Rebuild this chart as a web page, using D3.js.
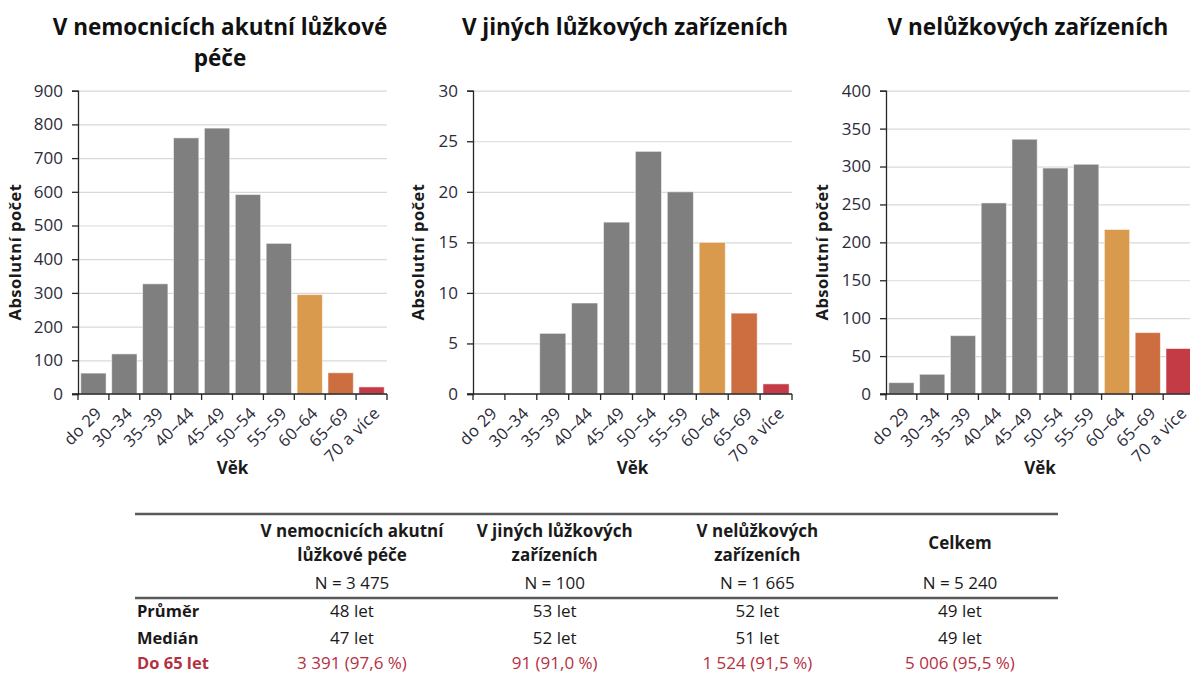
<!DOCTYPE html>
<html>
<head>
<meta charset="utf-8">
<script src="https://cdn.jsdelivr.net/npm/d3@7"></script>
<style>
  html, body { margin: 0; padding: 0; background: #fff; }
  svg { display: block; font-family: "Open Sans", Lato, sans-serif; }
</style>
</head>
<body>
<div id="chart"></div>
<script>
// --- données ---
const ageGroups = ["do 29", "30–34", "35–39", "40–44", "45–49", "50–54", "55–59", "60–64", "65–69", "70 a více"];
const barColors = ["#7f7f7f", "#7f7f7f", "#7f7f7f", "#7f7f7f", "#7f7f7f", "#7f7f7f", "#7f7f7f", "#d99a4e", "#cc6e40", "#c43a45"];

const acuteValues = [62, 119, 327, 760, 789, 592, 447, 295, 63, 21];
const otherBedValues = [0, 0, 6, 9, 17, 24, 20, 15, 8, 1];
const nonBedValues = [15, 26, 77, 252, 336, 298, 303, 217, 81, 60];

const acuteTicks = [0, 100, 200, 300, 400, 500, 600, 700, 800, 900];
const otherBedTicks = [0, 5, 10, 15, 20, 25, 30];
const nonBedTicks = [0, 50, 100, 150, 200, 250, 300, 350, 400];

const chartTitles = [["V nemocnicích akutní lůžkové", "péče"], ["V jiných lůžkových zařízeních"], ["V nelůžkových zařízeních"]];

// tableau
const tableHeaders = [["V nemocnicích akutní", "lůžkové péče"], ["V jiných lůžkových", "zařízeních"], ["V nelůžkových", "zařízeních"], ["Celkem"]];
const tableN = ["N = 3 475", "N = 100", "N = 1 665", "N = 5 240"];
const meanAges = ["48 let", "53 let", "52 let", "49 let"];
const medianAges = ["47 let", "52 let", "51 let", "49 let"];
const under65 = ["3 391 (97,6 %)", "91 (91,0 %)", "1 524 (91,5 %)", "5 006 (95,5 %)"];
const rowLabels = ["Průměr", "Medián", "Do 65 let"];

const W = 1190, H = 675;
const svg = d3.select("#chart").append("svg").attr("width", W).attr("height", H);

const plotTop = 90.7, plotBottom = 394;

function drawChart(cfg) {
    const g = svg.append("g");
    const x = d3.scaleBand().domain(ageGroups).range([cfg.left, cfg.right]).paddingInner(0.18).paddingOuter(0.09);
    const y = d3.scaleLinear().domain([0, d3.max(cfg.ticks)]).range([plotBottom, plotTop]);

    // grille
    g.append("g")
        .attr("transform", `translate(${cfg.left},0)`)
        .call(d3.axisLeft(y).tickValues(cfg.ticks).tickSize(-(cfg.right - cfg.left)).tickFormat(""))
        .call(a => a.select(".domain").remove())
        .call(a => a.selectAll("line").attr("stroke", "#d9d9d9").attr("stroke-width", 1.2));

    // barres
    g.selectAll("rect.bar")
        .data(cfg.values.map((v, i) => ({ cat: ageGroups[i], v: v, c: barColors[i] })).filter(d => d.v > 0))
        .join("rect")
        .attr("class", "bar")
        .attr("x", d => x(d.cat))
        .attr("width", x.bandwidth())
        .attr("y", d => y(d.v))
        .attr("height", d => y(0) - y(d.v))
        .attr("fill", d => d.c)
        .attr("stroke", "rgba(255,255,255,0.55)")
        .attr("stroke-width", 1);

    // axe Y
    g.append("g")
        .attr("transform", `translate(${cfg.left},0)`)
        .call(d3.axisLeft(y).tickValues(cfg.ticks).tickSize(6).tickPadding(9))
        .call(a => a.select(".domain").attr("stroke", "#262626").attr("stroke-width", 1.3))
        .call(a => a.selectAll("line").attr("stroke", "#262626").attr("stroke-width", 1.3))
        .call(a => a.selectAll("text").attr("fill", "#2b2b3a").style("font-size", "17px").style("font-family", "'Open Sans', sans-serif"));

    // axe X : ticks aux limites des catégories
    const xa = g.append("g");
    xa.append("line")
        .attr("x1", cfg.left - 6).attr("x2", cfg.right)
        .attr("y1", y(0)).attr("y2", y(0))
        .attr("stroke", "#262626").attr("stroke-width", 1.3);
    xa.selectAll("line.tk")
        .data(d3.range(ageGroups.length + 1))
        .join("line")
        .attr("class", "tk")
        .attr("x1", i => cfg.left + i * x.step()).attr("x2", i => cfg.left + i * x.step())
        .attr("y1", y(0)).attr("y2", y(0) + 6)
        .attr("stroke", "#262626").attr("stroke-width", 1.3);
    xa.selectAll("text")
        .data(ageGroups)
        .join("text")
        .attr("transform", d => `translate(${x(d) + x.bandwidth() / 2 + 1},${y(0) + 12}) rotate(-45)`)
        .attr("text-anchor", "end")
        .attr("dy", "0.7em")
        .attr("fill", "#2b2b3a")
        .style("font-size", "16.5px")
        .style("letter-spacing", "0.4px")
        .text(d => d);

    // titres d'axes
    g.append("text")
        .attr("x", (cfg.left + cfg.right) / 2).attr("y", 474)
        .attr("text-anchor", "middle")
        .style("font-weight", 700).style("font-size", "17px").attr("fill", "#1a1a1a")
        .text("Věk");
    g.append("text")
        .attr("transform", `translate(${cfg.left + cfg.labelOffset},252) rotate(-90)`)
        .attr("text-anchor", "middle")
        .style("font-weight", 700).style("font-size", "16.5px").style("letter-spacing", "0.5px").attr("fill", "#1a1a1a")
        .text("Absolutní počet");

    // titre
    cfg.title.forEach((t, i) => {
        g.append("text")
            .attr("x", cfg.titleX).attr("y", 35 + i * 31)
            .attr("text-anchor", "middle")
            .style("font-weight", 700).style("font-size", "22.5px").attr("fill", "#111")
            .text(t);
    });
}

drawChart({ left: 78, right: 387, values: acuteValues, ticks: acuteTicks, title: chartTitles[0], titleX: 220, labelOffset: -57 });
drawChart({ left: 473, right: 792, values: otherBedValues, ticks: otherBedTicks, title: chartTitles[1], titleX: 625, labelOffset: -49 });
drawChart({ left: 886, right: 1194, values: nonBedValues, ticks: nonBedTicks, title: chartTitles[2], titleX: 1028, labelOffset: -58 });

// --- tableau ---
const colX = d3.scalePoint().domain(d3.range(4)).range([352, 960]);
const tbl = svg.append("g").style("font-size", "17px");

[514, 598].forEach(yy => {
    tbl.append("line").attr("x1", 135).attr("x2", 1058).attr("y1", yy).attr("y2", yy)
        .attr("stroke", "#595959").attr("stroke-width", 2.4);
});

tableHeaders.forEach((lines, i) => {
    const y0 = lines.length === 2 ? 537 : 549;
    lines.forEach((t, j) => {
        tbl.append("text").attr("x", colX(i)).attr("y", y0 + j * 24)
            .attr("text-anchor", "middle").style("font-weight", 700).attr("fill", "#1a1a1a").text(t);
    });
});
tableN.forEach((t, i) => {
    tbl.append("text").attr("x", colX(i)).attr("y", 589).attr("text-anchor", "middle").attr("fill", "#1a1a1a").text(t);
});

const rows = [meanAges, medianAges, under65];
const rowY = [617, 644, 669];
rows.forEach((r, k) => {
    const col = k === 2 ? "#b5303f" : "#1a1a1a";
    tbl.append("text").attr("x", 137).attr("y", rowY[k]).style("font-weight", 700).style("font-size", "16.5px").attr("fill", col).text(rowLabels[k]);
    r.forEach((t, i) => {
        tbl.append("text").attr("x", colX(i)).attr("y", rowY[k]).attr("text-anchor", "middle").attr("fill", col).text(t);
    });
});
</script>
</body>
</html>
